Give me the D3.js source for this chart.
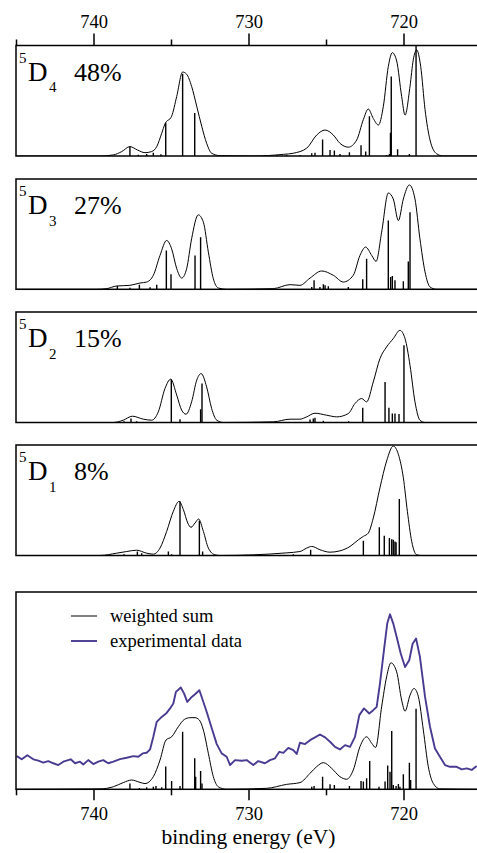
<!DOCTYPE html>
<html lang="en">
<head>
<meta charset="UTF-8">
<title>5D multiplet spectra</title>
<script src="https://d3js.org/d3.v7.min.js"></script>
<style>
  body { margin: 0; background: #fff; }
  svg { display: block; }
  text { font-family: "Liberation Serif", "DejaVu Serif", serif; fill: #000; }
  .frame { fill: none; stroke: #000; stroke-width: 1.5; }
  .curve { fill: none; stroke: #000; stroke-width: 1; }
  .stick { stroke: #000; stroke-width: 1.4; }
  .expt { fill: none; stroke: #4b3a91; stroke-width: 1.9; stroke-linejoin: round; }
  .axis line { stroke: #000; stroke-width: 1.5; }
</style>
</head>
<body>
<div id="chart"></div>
<script>
// term labels and weights of the four 5D components
const terms = ["4", "3", "2", "1"];
const weights = ["48%", "27%", "15%", "8%"];

// broadened spectra [binding energy, intensity]
const curveD4 = [[745,0],[739.58,0],[738.72,0.01],[738.18,0.04],[737.65,0.085],[737.17,0.055],[736.68,0.03],[736.25,0.04],[735.92,0.085],[735.6,0.205],[735.39,0.29],[734.96,0.36],[734.63,0.54],[734.25,0.76],[733.99,0.74],[733.67,0.63],[733.34,0.45],[733.02,0.27],[732.7,0.115],[732.38,0.025],[731.84,0.003],[729.69,0],[727.75,0.015],[727.11,0.025],[726.25,0.07],[725.6,0.19],[725.06,0.235],[724.53,0.19],[724.1,0.115],[723.56,0.08],[723.02,0.145],[722.59,0.33],[722.27,0.425],[721.95,0.34],[721.62,0.28],[721.3,0.45],[720.98,0.81],[720.72,0.935],[720.44,0.86],[720.12,0.54],[719.9,0.37],[719.58,0.63],[719.37,0.87],[719.15,0.96],[718.89,0.81],[718.61,0.42],[718.29,0.145],[717.86,0.02],[717.43,0],[715,0]];
const curveD3 = [[745,0],[739.8,0],[739.15,0.006],[738.51,0.03],[737.65,0.036],[737.0,0.057],[736.57,0.066],[736.14,0.127],[735.71,0.307],[735.28,0.443],[734.96,0.367],[734.63,0.187],[734.31,0.102],[733.99,0.187],[733.67,0.458],[733.24,0.675],[732.91,0.608],[732.59,0.337],[732.27,0.096],[731.95,0.012],[731.41,0],[728.4,0.006],[727.32,0.042],[726.68,0.036],[726.03,0.102],[725.28,0.166],[724.53,0.127],[723.88,0.066],[723.24,0.127],[722.81,0.307],[722.44,0.383],[722.05,0.307],[721.77,0.253],[721.41,0.518],[720.98,0.873],[720.66,0.819],[720.33,0.623],[720.01,0.819],[719.62,0.946],[719.26,0.819],[718.94,0.458],[718.61,0.157],[718.29,0.021],[717.86,0],[715,0]];
const curveD2 = [[745,0],[738.72,0],[738.08,0.021],[737.49,0.057],[736.78,0.03],[736.25,0.021],[735.82,0.096],[735.39,0.307],[735.02,0.392],[734.63,0.247],[734.31,0.111],[734.03,0.075],[733.67,0.187],[733.34,0.383],[733.06,0.443],[732.7,0.322],[732.38,0.127],[732.05,0.021],[731.62,0],[728.4,0.006],[727.32,0.03],[726.68,0.03],[726.25,0.051],[725.71,0.084],[724.96,0.066],[724.31,0.051],[723.56,0.081],[723.13,0.172],[722.7,0.217],[722.38,0.187],[721.95,0.367],[721.52,0.578],[721.09,0.684],[720.66,0.759],[720.23,0.834],[719.9,0.759],[719.58,0.518],[719.26,0.187],[718.94,0.021],[718.61,0],[715,0]];
const curveD1 = [[745,0],[739.58,0],[738.51,0.021],[737.86,0.036],[737.22,0.048],[736.57,0.021],[736.14,0.012],[735.71,0.067],[735.28,0.218],[734.85,0.4],[734.48,0.49],[734.2,0.415],[733.92,0.294],[733.71,0.255],[733.45,0.294],[733.22,0.33],[732.91,0.218],[732.59,0.067],[732.16,0.006],[731.84,0],[729.69,0.006],[727.54,0.024],[726.68,0.036],[726.25,0.067],[725.92,0.082],[725.39,0.052],[724.74,0.03],[724.1,0.042],[723.45,0.082],[722.91,0.142],[722.59,0.173],[722.27,0.203],[721.95,0.339],[721.52,0.612],[721.09,0.855],[720.66,0.99],[720.33,0.915],[720.01,0.703],[719.75,0.4],[719.47,0.127],[719.15,0.006],[718.83,0],[715,0]];
const curveSum = [[745,0],[739.58,0.002],[738.72,0.013],[738.08,0.034],[737.54,0.047],[737.0,0.035],[736.68,0.029],[736.14,0.064],[735.71,0.148],[735.32,0.25],[734.96,0.266],[734.53,0.317],[734.14,0.354],[733.77,0.363],[733.45,0.363],[733.17,0.351],[732.91,0.3],[732.59,0.182],[732.27,0.064],[731.95,0.013],[731.41,0],[728.83,0.005],[727.54,0.025],[726.68,0.034],[726.03,0.081],[725.6,0.115],[725.17,0.135],[724.63,0.106],[724.1,0.064],[723.67,0.051],[723.24,0.098],[722.81,0.216],[722.38,0.266],[722.05,0.233],[721.8,0.212],[721.41,0.418],[721.09,0.57],[720.81,0.641],[720.44,0.595],[720.12,0.452],[719.9,0.396],[719.58,0.477],[719.32,0.511],[719.04,0.469],[718.72,0.3],[718.4,0.115],[718.08,0.03],[717.65,0.002],[715,0]];

// line spectra [binding energy, intensity]
const sticksD4 = [[737.65,0.085],[737.11,0.012],[736.57,0.018],[736.14,0.03],[735.65,0.015],[735.34,0.3],[734.25,0.745],[733.47,0.39],[728.18,0.01],[727.54,0.01],[726.68,0.01],[725.92,0.025],[725.71,0.03],[725.22,0.15],[724.74,0.055],[724.46,0.05],[724.1,0.018],[723.49,0.033],[722.74,0.097],[722.44,0.04],[722.2,0.36],[721.09,0.01],[720.91,0.018],[720.84,0.21],[720.79,0.72],[720.38,0.06],[719.62,0.018],[719.19,1.0]];
const sticksD3 = [[738.46,0.03],[737.65,0.015],[737.04,0.042],[736.35,0.018],[735.92,0.042],[735.3,0.352],[735.0,0.136],[733.45,0.307],[733.09,0.473],[725.92,0.021],[725.77,0.081],[725.39,0.021],[725.17,0.045],[725.06,0.036],[724.85,0.027],[723.56,0.021],[722.63,0.09],[722.38,0.277],[720.98,0.623],[720.83,0.111],[720.72,0.12],[720.55,0.081],[720.01,0.072],[719.69,0.253],[719.58,0.699]];
const sticksD2 = [[738.03,0.012],[737.58,0.036],[737.22,0.012],[734.98,0.392],[734.42,0.03],[733.09,0.12],[733.0,0.352],[726.03,0.027],[725.82,0.036],[725.71,0.042],[725.17,0.015],[723.54,0.012],[722.63,0.133],[721.19,0.367],[720.94,0.133],[720.72,0.081],[720.55,0.081],[720.29,0.078],[719.97,0.699]];
const sticksD1 = [[738.03,0.012],[737.17,0.036],[736.89,0.021],[735.17,0.036],[734.96,0.012],[734.42,0.49],[733.17,0.315],[732.96,0.036],[727.11,0.012],[725.99,0.052],[722.59,0.133],[721.56,0.255],[721.24,0.179],[720.91,0.158],[720.76,0.148],[720.66,0.142],[720.55,0.127],[720.48,0.121],[720.27,0.512]];
const sticksSum = [[737.65,0.03],[737.04,0.007],[736.57,0.01],[736.14,0.013],[735.97,0.017],[735.6,0.01],[735.34,0.115],[734.96,0.042],[734.42,0.017],[734.25,0.292],[733.47,0.157],[733.41,0.064],[733.09,0.093],[733.0,0.03],[725.92,0.013],[725.77,0.017],[725.22,0.064],[724.74,0.025],[724.46,0.022],[723.49,0.017],[722.74,0.042],[722.59,0.039],[722.38,0.056],[722.18,0.143],[721.58,0.013],[721.19,0.039],[721.02,0.12],[720.87,0.089],[720.76,0.295],[720.66,0.022],[720.48,0.017],[720.33,0.027],[720.23,0.013],[720.01,0.076],[719.62,0.135],[719.54,0.047],[719.19,0.408]];

// measured spectrum [binding energy, intensity]
const experiment = [[744.95,0.168],[744.63,0.152],[744.27,0.173],[743.88,0.152],[743.56,0.145],[743.24,0.135],[742.92,0.143],[742.59,0.132],[742.27,0.123],[741.95,0.14],[741.47,0.152],[741.19,0.132],[740.87,0.14],[740.66,0.126],[740.34,0.148],[740.01,0.128],[739.69,0.14],[739.37,0.148],[739.05,0.132],[738.72,0.14],[738.29,0.153],[737.86,0.16],[737.43,0.168],[737.11,0.165],[736.83,0.182],[736.57,0.185],[736.35,0.202],[736.14,0.266],[735.92,0.342],[735.6,0.367],[735.28,0.387],[735.06,0.41],[734.85,0.435],[734.68,0.494],[734.37,0.516],[734.16,0.486],[733.95,0.443],[733.66,0.468],[733.45,0.482],[733.17,0.502],[733.02,0.468],[732.7,0.393],[732.37,0.309],[732.05,0.229],[731.73,0.182],[731.41,0.165],[731.19,0.123],[730.87,0.148],[730.44,0.145],[730.12,0.148],[729.69,0.123],[729.37,0.143],[728.94,0.132],[728.61,0.148],[728.29,0.157],[728.01,0.19],[727.75,0.185],[727.43,0.21],[727.11,0.199],[726.89,0.179],[726.68,0.236],[726.35,0.229],[726.03,0.249],[725.71,0.263],[725.39,0.278],[725.06,0.263],[724.74,0.241],[724.42,0.215],[724.1,0.202],[723.77,0.224],[723.45,0.215],[723.13,0.266],[722.85,0.376],[722.55,0.41],[722.21,0.384],[721.95,0.401],[721.73,0.418],[721.52,0.536],[721.26,0.705],[721.05,0.84],[720.87,0.887],[720.66,0.84],[720.44,0.772],[720.18,0.688],[719.9,0.62],[719.63,0.654],[719.41,0.738],[719.19,0.764],[718.94,0.671],[718.61,0.468],[718.29,0.317],[717.97,0.207],[717.65,0.165],[717.32,0.123],[717.0,0.114],[716.57,0.114],[716.24,0.101],[715.92,0.106],[715.6,0.098],[715.28,0.118]];

const majorTicks = [740, 730, 720];
const minorTicks = [745, 735, 725, 715];
const legendLabels = ["weighted sum", "experimental data"];

const W = 477, H = 853;
const FONT = "'Liberation Serif', 'DejaVu Serif', serif";
const panels = [
  { top: 45.5, base: 156, curve: curveD4, sticks: sticksD4 },
  { top: 179, base: 289.3, curve: curveD3, sticks: sticksD3 },
  { top: 312, base: 422.5, curve: curveD2, sticks: sticksD2 },
  { top: 445, base: 555.5, curve: curveD1, sticks: sticksD1 },
  { top: 592, base: 789.3, curve: curveSum, sticks: sticksSum }
];

const svg = d3.select("#chart").append("svg")
  .attr("width", W).attr("height", H);

const x = d3.scaleLinear().domain([745, 715]).range([16, 481]);

panels.forEach((p, i) => {
  const y = d3.scaleLinear().domain([0, 1]).range([p.base, p.top]);
  const g = svg.append("g");

  g.append("clipPath").attr("id", "clip" + i)
    .append("rect")
    .attr("x", x(745)).attr("y", p.top - 2)
    .attr("width", x(715) - x(745)).attr("height", p.base - p.top + 2);

  const inner = g.append("g").attr("clip-path", `url(#clip${i})`);

  if (i === 4) {
    inner.append("path")
      .datum(experiment)
      .attr("class", "expt")
      .attr("d", d3.line().x(d => x(d[0])).y(d => y(d[1])));
  }

  inner.selectAll("line.stick")
    .data(p.sticks)
    .join("line")
    .attr("class", "stick")
    .attr("x1", d => x(d[0])).attr("x2", d => x(d[0]))
    .attr("y1", y(0)).attr("y2", d => y(d[1]));

  inner.append("path")
    .datum(p.curve)
    .attr("class", "curve")
    .attr("d", d3.line().x(d => x(d[0])).y(d => y(d[1])).curve(d3.curveMonotoneX));

  g.append("rect")
    .attr("class", "frame")
    .attr("x", x(745)).attr("y", p.top)
    .attr("width", x(715) - x(745)).attr("height", p.base - p.top);

  if (i < 4) {
    // term symbol 5D_J, drawn as separate pieces
    g.append("text").attr("x", 19).attr("y", p.top + 17)
      .style("font-size", "15px").text("5");
    g.append("text").attr("x", 28).attr("y", p.top + 35)
      .style("font-size", "27px").text("D");
    g.append("text").attr("x", 49).attr("y", p.top + 46.5)
      .style("font-size", "15px").text(terms[i]);
    g.append("text")
      .attr("x", 74).attr("y", p.top + 35)
      .style("font-size", "26px")
      .text(weights[i]);
  }
});

// top axis on first panel
const topAxis = svg.append("g").attr("class", "axis")
  .attr("transform", `translate(0,${panels[0].top})`);
topAxis.append("g")
  .call(d3.axisTop(x).tickValues(majorTicks).tickSize(12).tickSizeOuter(0).tickPadding(6).tickFormat(d3.format("d")))
  .call(a => a.select(".domain").remove());
topAxis.append("g")
  .call(d3.axisTop(x).tickValues(minorTicks).tickSize(6).tickSizeOuter(0).tickFormat(""))
  .call(a => a.select(".domain").remove());

// bottom axis on last panel
const botAxis = svg.append("g").attr("class", "axis")
  .attr("transform", `translate(0,${panels[4].base})`);
botAxis.append("g")
  .call(d3.axisBottom(x).tickValues(majorTicks).tickSize(11).tickSizeOuter(0).tickPadding(7).tickFormat(d3.format("d")))
  .call(a => a.select(".domain").remove());
botAxis.append("g")
  .call(d3.axisBottom(x).tickValues(minorTicks).tickSize(6).tickSizeOuter(0).tickFormat(""))
  .call(a => a.select(".domain").remove());

svg.selectAll(".axis text").style("font-size", "18.5px");

svg.append("text")
  .attr("x", x(730)).attr("y", 844)
  .attr("text-anchor", "middle")
  .style("font-size", "21.5px")
  .text("binding energy (eV)");

// legend
const legend = svg.append("g");
const legendClass = ["curve", "expt"];
legendLabels.forEach((t, i) => {
  const ly = 616 + i * 25;
  legend.append("line")
    .attr("class", legendClass[i])
    .attr("x1", 71).attr("x2", 97).attr("y1", ly).attr("y2", ly);
  legend.append("text")
    .attr("x", 110).attr("y", ly + 5.5)
    .style("font-size", "18.5px")
    .text(t);
});

svg.selectAll("text").style("font-family", FONT).style("fill", "#000");
</script>
</body>
</html>
